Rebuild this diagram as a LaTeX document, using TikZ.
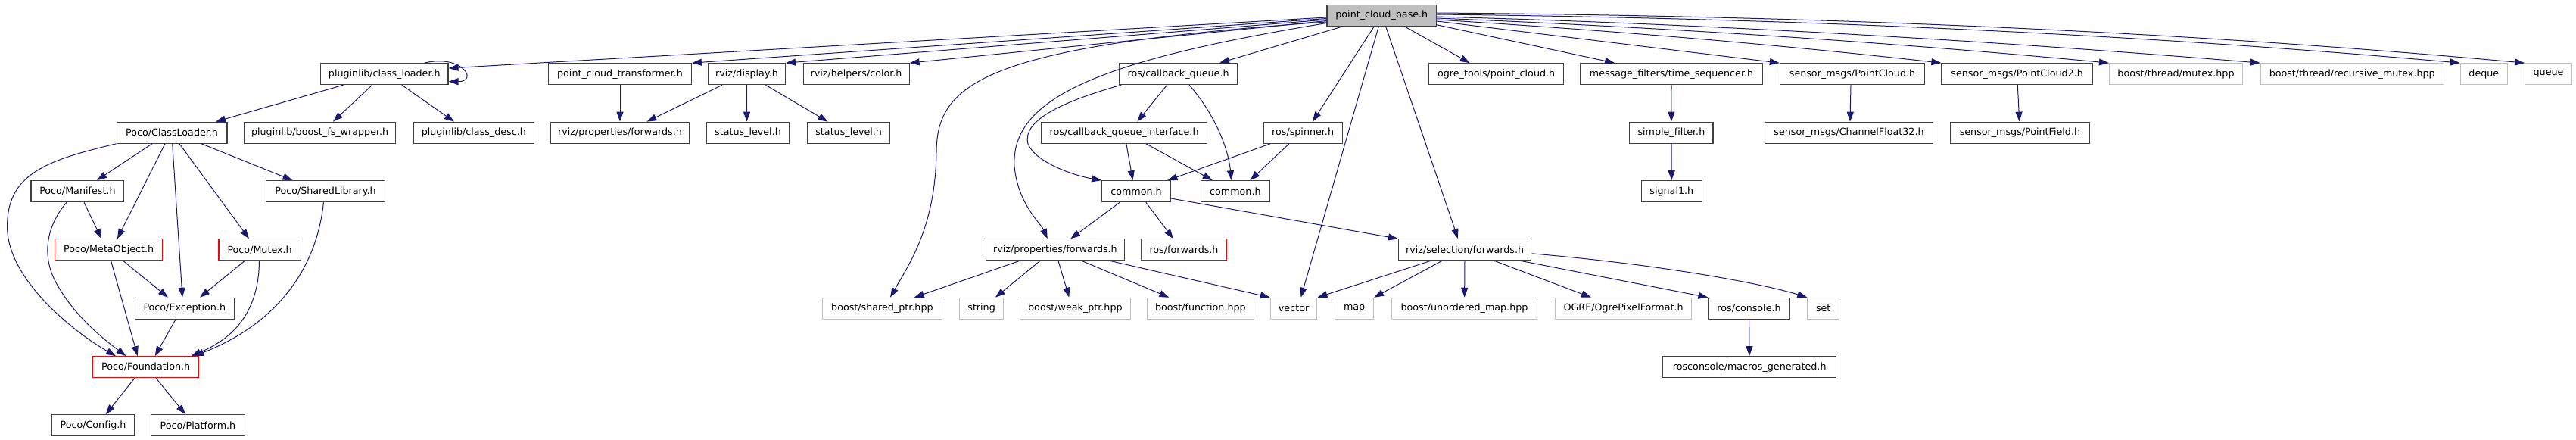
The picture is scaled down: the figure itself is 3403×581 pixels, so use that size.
\documentclass[tikz,border=0pt]{standalone}
\usepackage{fontspec}
\setmainfont{DejaVu Sans}
\usepackage{tikz}
\usetikzlibrary{arrows.meta}
\definecolor{edgeblue}{RGB}{25,25,112}
\definecolor{sysgray}{RGB}{191,191,191}
\definecolor{boxline}{RGB}{64,64,64}

\begin{document}
\begin{tikzpicture}[x=1pt,y=1pt,
    font=\fontsize{12.7}{15}\selectfont,
    box/.style={draw=boxline, line width=1.1pt, minimum height=28pt, inner sep=0pt},
    redbox/.style={box, draw=red},
    sysbox/.style={box, draw=sysgray},
    rootbox/.style={box, fill=sysgray, minimum height=27.5pt},
    edge/.style={draw=edgeblue, line width=1pt, -{Triangle[length=13pt,width=9pt]}}]
             \useasboundingbox (0,0) rectangle (3403,-581);

             \node[rootbox, minimum width=144.6pt] (root) at (1825.3,-20.5) {point\_cloud\_base.h};

             \node[box, minimum width=168.4pt] (clh) at (507.8,-97.7) {pluginlib/class\_loader.h};
             \node[box, minimum width=188.7pt] (pct) at (819,-97.7) {point\_cloud\_transformer.h};
             \node[box, minimum width=101.8pt] (disp) at (986.5,-97.7) {rviz/display.h};
             \node[box, minimum width=140pt] (color) at (1131.1,-97.7) {rviz/helpers/color.h};
             \node[box, minimum width=156pt] (cbq) at (1556.6,-97.7) {ros/callback\_queue.h};
             \node[box, minimum width=178pt] (ogre) at (1976.6,-97.7) {ogre\_tools/point\_cloud.h};
             \node[box, minimum width=240.3pt] (tseq) at (2208,-97.7) {message\_filters/time\_sequencer.h};
             \node[box, minimum width=191.3pt] (pc) at (2447,-97.7) {sensor\_msgs/PointCloud.h};
             \node[box, minimum width=199.4pt] (pctwo) at (2664.6,-97.7) {sensor\_msgs/PointCloud2.h};
             \node[sysbox, minimum width=176pt] (bmutex) at (2874.5,-97.7) {boost/thread/mutex.hpp};
             \node[sysbox, minimum width=241.7pt] (brmutex) at (3107.2,-97.7) {boost/thread/recursive\_mutex.hpp};
             \node[sysbox, minimum width=62pt] (deque) at (3281.3,-97.7) {deque};
             \node[sysbox, minimum width=61.6pt] (queue) at (3366.5,-97.7) {queue};

             \node[box, minimum width=145.8pt] (pcl) at (227.1,-175.2) {Poco/ClassLoader.h};
             \node[box, minimum width=200pt] (bfs) at (422.6,-175.2) {pluginlib/boost\_fs\_wrapper.h};
             \node[box, minimum width=158.8pt] (cdesc) at (625.8,-175.2) {pluginlib/class\_desc.h};
             \node[box, minimum width=183.3pt] (propa) at (819,-175.2) {rviz/properties/forwards.h};
             \node[box, minimum width=109.4pt] (stata) at (988,-175.2) {status\_level.h};
             \node[box, minimum width=109.4pt] (statb) at (1121.2,-175.2) {status\_level.h};
             \node[box, minimum width=219.6pt] (cbqi) at (1485.1,-175.2) {ros/callback\_queue\_interface.h};
             \node[box, minimum width=104pt] (spin) at (1721.1,-175.2) {ros/spinner.h};
             \node[box, minimum width=110.2pt] (sfilt) at (2207.9,-175.2) {simple\_filter.h};
             \node[box, minimum width=222pt] (chf) at (2442.5,-175.2) {sensor\_msgs/ChannelFloat32.h};
             \node[box, minimum width=183.3pt] (pfield) at (2668.4,-175.2) {sensor\_msgs/PointField.h};

             \node[box, minimum width=122.8pt] (manif) at (102.4,-252.7) {Poco/Manifest.h};
             \node[box, minimum width=156.5pt] (shlib) at (430,-252.7) {Poco/SharedLibrary.h};
             \node[box, minimum width=90.7pt] (comma) at (1501,-252.7) {common.h};
             \node[box, minimum width=90.7pt] (commb) at (1631.9,-252.7) {common.h};
             \node[box, minimum width=79.6pt] (sig) at (2208.3,-252.7) {signal1.h};

             \node[redbox, minimum width=142pt] (meta) at (143.7,-329.8) {Poco/MetaObject.h};
             \node[redbox, minimum width=108.2pt] (pmutex) at (343.1,-329.8) {Poco/Mutex.h};
             \node[box, minimum width=182.5pt] (propb) at (1393.9,-329.8) {rviz/properties/forwards.h};
             \node[redbox, minimum width=112.5pt] (rosfwd) at (1564,-329.8) {ros/forwards.h};
             \node[box, minimum width=175.2pt] (selfwd) at (1935.1,-329.8) {rviz/selection/forwards.h};

             \node[box, minimum width=130.9pt] (pexc) at (243.8,-407.3) {Poco/Exception.h};
             \node[sysbox, minimum width=158pt] (shptr) at (1165.4,-407.3) {boost/shared\_ptr.hpp};
             \node[sysbox, minimum width=57.8pt] (str) at (1296.6,-407.3) {string};
             \node[sysbox, minimum width=145.4pt] (wptr) at (1420.4,-407.3) {boost/weak\_ptr.hpp};
             \node[sysbox, minimum width=140.4pt] (func) at (1585.9,-407.3) {boost/function.hpp};
             \node[sysbox, minimum width=61.6pt] (vec) at (1709.1,-407.3) {vector};
             \node[sysbox, minimum width=50.8pt] (map) at (1789.1,-407.3) {map};
             \node[sysbox, minimum width=192.4pt] (umap) at (1934.5,-407.3) {boost/unordered\_map.hpp};
             \node[sysbox, minimum width=180.2pt] (ogrepf) at (2144.6,-407.3) {OGRE/OgrePixelFormat.h};
             \node[box, minimum width=107.1pt] (console) at (2310.5,-407.3) {ros/console.h};
             \node[sysbox, minimum width=41.7pt] (set) at (2408.7,-407.3) {set};

             \node[redbox, minimum width=140.4pt] (found) at (192.7,-484.7) {Poco/Foundation.h};
             \node[box, minimum width=228.8pt] (macros) at (2311.2,-484.7) {rosconsole/macros\_generated.h};

             \node[box, minimum width=108.3pt] (config) at (123,-561.8) {Poco/Config.h};
             \node[box, minimum width=123.3pt] (platform) at (261.4,-561.8) {Poco/Platform.h};

             \draw[edge] ([yshift=-2.5pt]root.west) -- ([yshift=7.7pt]clh.east);
             \draw[edge] ([yshift=-4pt]root.west) -- (pct.north east);
             \draw[edge] ([yshift=-5.5pt]root.west) -- (disp.north east);
             \draw[edge] ([yshift=-7pt]root.west) -- (color.north east);
             \draw[edge] ([yshift=-8.5pt]root.west) .. controls (1300,-60) and (1238,-110) .. (1237,-200) .. controls (1236,-300) and (1200,-350) .. ([xshift=10.6pt]shptr.north);
             \draw[edge] ([yshift=-10pt]root.west) .. controls (1450,-80) and (1335,-130) .. (1340,-220) .. controls (1345,-270) and (1375,-295) .. ([xshift=-10.2pt]propb.north);
             \draw[edge] ([xshift=-51.3pt]root.south) -- ([xshift=54.4pt]cbq.north);
             \draw[edge] ([xshift=-10pt]root.south) -- ([xshift=12.9pt]spin.north);
             \draw[edge] ([xshift=-4pt]root.south) -- ([xshift=9.4pt]vec.north);
             \draw[edge] ([xshift=5.3pt]root.south) -- ([xshift=-9pt]selfwd.north);
             \draw[edge] ([xshift=30pt]root.south) -- ([xshift=-35pt]ogre.north);
             \draw[edge] ([yshift=2pt]root.south east) -- ([xshift=-75pt]tseq.north);
             \draw[edge] ([yshift=-7.5pt]root.east) -- (pc.north west);
             \draw[edge] ([yshift=-5.5pt]root.east) .. controls +(222,-13.6) and +(-222,25) .. (pctwo.north west);
             \draw[edge] ([yshift=-3.5pt]root.east) .. controls +(296,-12) and +(-296,28) .. (bmutex.north west);
             \draw[edge] ([yshift=-1.5pt]root.east) .. controls +(363,-10) and +(-363,30) .. (brmutex.north west);
             \draw[edge] ([yshift=1.5pt]root.east) .. controls +(450,-5) and +(-450,40) .. (deque.north west);
             \draw[edge] ([yshift=3.5pt]root.east) .. controls +(480,-4) and +(-480,44) .. (queue.north west);

             \draw[edge] ([xshift=-54.3pt]clh.south) -- ([xshift=57.9pt]pcl.north);
             \draw[edge] ([xshift=-16.1pt]clh.south) -- ([xshift=17.4pt]bfs.north);
             \draw[edge] ([xshift=23pt]clh.south) -- ([xshift=-25.8pt]cdesc.north);
             \draw[edge] ([xshift=52.8pt]clh.north) .. controls +(50,12) and +(40,0) .. ([yshift=-10pt]clh.east);

             \draw[edge] ([xshift=-26.1pt]pcl.south) -- ([xshift=25.6pt]manif.north);
             \draw[edge] ([xshift=-9.1pt]pcl.south) -- ([xshift=11.3pt]meta.north);
             \draw[edge] ([xshift=0.6pt]pcl.south) -- ([xshift=-2.8pt]pexc.north);
             \draw[edge] ([xshift=9.9pt]pcl.south) -- ([xshift=-14.1pt]pmutex.north);
             \draw[edge] ([xshift=38.9pt]pcl.south) -- ([xshift=-43.5pt]shlib.north);
             \draw[edge] (pcl.south west) .. controls (60,-212) and (9,-230) .. (9.6,-300) .. controls (10,-370) and (100,-440) .. ([xshift=-39.7pt]found.north);
             \draw[edge] ([xshift=8.6pt]manif.south) -- ([xshift=-9.7pt]meta.north);
             \draw[edge] ([xshift=-14.4pt]manif.south) .. controls (60,-300) and (55,-340) .. (75,-375) .. controls (100,-420) and (140,-450) .. ([xshift=-26.2pt]found.north);
             \draw[edge] ([xshift=18.9pt]meta.south) -- ([xshift=-21.8pt]pexc.north);
             \draw[edge] ([xshift=2.9pt]meta.south) -- ([xshift=-10.9pt]found.north);
             \draw[edge] ([xshift=-19.7pt]pmutex.south) -- ([xshift=20.2pt]pexc.north);
             \draw[edge] ([xshift=-0.6pt]pmutex.south) .. controls (342,-420) and (300,-450) .. ([xshift=59.9pt]found.north);
             \draw[edge] ([xshift=-2.6pt]shlib.south) .. controls (418,-360) and (360,-430) .. ([xshift=63.7pt]found.north);
             \draw[edge] ([xshift=-11.8pt]pexc.south) -- ([xshift=12pt]found.north);
             \draw[edge] ([xshift=-14.7pt]found.south) -- ([xshift=16.7pt]config.north);
             \draw[edge] ([xshift=13.3pt]found.south) -- ([xshift=-16.4pt]platform.north);

             \draw[edge] (pct) -- (propa);
             \draw[edge] ([xshift=-32.5pt]disp.south) -- ([xshift=35.5pt]propa.north);
             \draw[edge] (disp.south) -- ([xshift=-1.5pt]stata.north);
             \draw[edge] ([xshift=24.9pt]disp.south) -- ([xshift=-27.6pt]statb.north);

             \draw[edge] ([xshift=-14.9pt]cbq.south) -- ([xshift=17.2pt]cbqi.north);
             \draw[edge] ([xshift=-75.6pt]cbq.south) .. controls (1400,-135) and (1350,-160) .. (1358,-190) .. controls (1368,-215) and (1420,-232) .. (comma.north west);
             \draw[edge] ([xshift=14.4pt]cbq.south) .. controls (1600,-145) and (1622,-190) .. ([xshift=-5.2pt]commb.north);
             \draw[edge] ([xshift=2.7pt]cbqi.south) -- ([xshift=-4.4pt]comma.north);
             \draw[edge] ([xshift=28.7pt]cbqi.south) -- ([xshift=-30.1pt]commb.north);
             \draw[edge] ([xshift=-42.8pt]spin.south) -- ([xshift=41.5pt]comma.north);
             \draw[edge] ([xshift=-18.1pt]spin.south) -- ([xshift=19.6pt]commb.north);
             \draw[edge] ([xshift=-21.7pt]comma.south) -- ([xshift=20.4pt]propb.north);
             \draw[edge] ([xshift=12.8pt]comma.south) -- ([xshift=-14pt]rosfwd.north);
             \draw[edge] ([yshift=-9.3pt]comma.east) -- (selfwd.north west);

             \draw[edge] ([xshift=-46.9pt]propb.south) -- ([xshift=42.3pt]shptr.north);
             \draw[edge] ([xshift=-19.9pt]propb.south) -- ([xshift=18.2pt]str.north);
             \draw[edge] ([xshift=4.1pt]propb.south) -- ([xshift=-8pt]wptr.north);
             \draw[edge] ([xshift=34.9pt]propb.south) -- ([xshift=-41.5pt]func.north);
             \draw[edge] ([xshift=72.1pt]propb.south) -- (vec.north west);

             \draw[edge] ([xshift=-45.1pt]selfwd.south) -- (vec.north east);
             \draw[edge] ([xshift=-30.1pt]selfwd.south) -- (map.north east);
             \draw[edge] (selfwd) -- (umap);
             \draw[edge] ([xshift=38.9pt]selfwd.south) -- ([xshift=-42.6pt]ogrepf.north);
             \draw[edge] ([xshift=73.5pt]selfwd.south) -- (console.north west);
             \draw[edge] ([yshift=-5pt]selfwd.east) .. controls (2200,-350) and (2330,-375) .. (set.north west);

             \draw[edge] (console) -- (macros);
             \draw[edge] (tseq) -- (sfilt);
             \draw[edge] (sfilt) -- (sig);
             \draw[edge] ([xshift=-2pt]pc.south) -- ([xshift=1.5pt]chf.north);
             \draw[edge] (pctwo) -- (pfield);
             \end{tikzpicture}
\end{document}
